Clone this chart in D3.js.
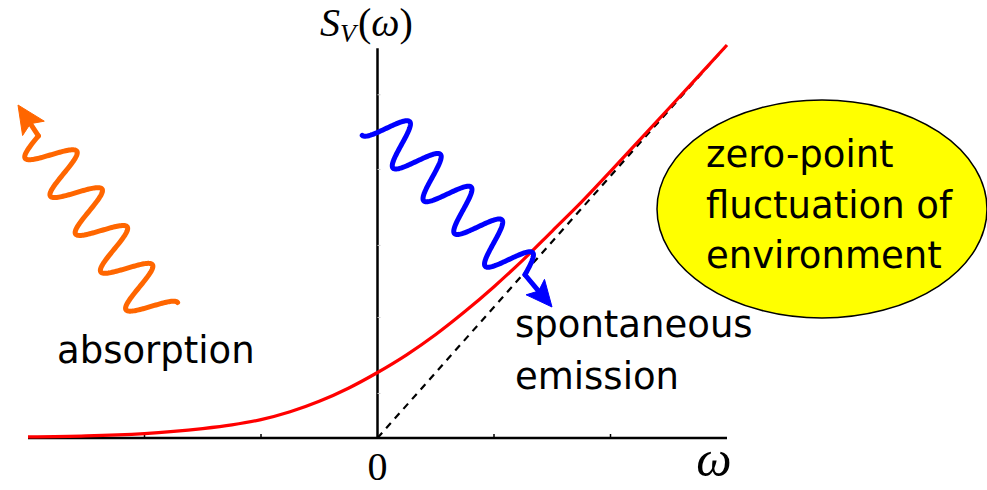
<!DOCTYPE html>
<html>
<head>
<meta charset="utf-8">
<script src="https://cdn.jsdelivr.net/npm/d3@7/dist/d3.min.js"></script>
<style>
  html, body { margin: 0; padding: 0; background: #fff; }
  svg { display: block; }
</style>
</head>
<body>
<svg id="chart" width="987" height="490"></svg>
<script>
// ---------- data ----------
const omega    = [-3, -2.5, -2, -1.75, -1.5, -1.25, -1, -0.75, -0.5, -0.25, 0, 0.25, 0.5, 0.75, 1, 1.25, 1.5, 1.75, 2, 2.5, 3];
const spectrum = [0.008, 0.016, 0.034, 0.05, 0.072, 0.1, 0.14, 0.2, 0.28, 0.38, 0.5, 0.635, 0.79, 0.965, 1.155, 1.36, 1.58, 1.8, 2.035, 2.515, 3.0];
const asymptoteX = [0, 2.98];
const asymptoteY = [0, 2.98];
const xTicks = [-2, -1, 1, 2];
const yTicks = [0.34, 0.92, 1.47, 2.05, 2.62];
const xTickLabels = ["0"];
const notes = {
  absorption: ["absorption"],
  emission: ["spontaneous", "emission"],
  zeroPoint: ["zero-point", "fluctuation of", "environment"]
};

// ---------- layout ----------
const svg = d3.select("#chart");
const x = d3.scaleLinear().domain([-3, 3]).range([28, 727]);
const y = d3.scaleLinear().domain([0, 3]).range([438, 45]);

// axes
svg.append("line")
  .attr("x1", x(-3)).attr("x2", x(3))
  .attr("y1", y(0)).attr("y2", y(0))
  .attr("stroke", "#000").attr("stroke-width", 2.5);
svg.append("line")
  .attr("x1", x(0)).attr("x2", x(0))
  .attr("y1", y(0) + 1).attr("y2", y(2.975))
  .attr("stroke", "#000").attr("stroke-width", 2.5);

svg.selectAll(".xt").data(xTicks).enter().append("line")
  .attr("x1", d => x(d)).attr("x2", d => x(d))
  .attr("y1", y(0)).attr("y2", y(0) - 4)
  .attr("stroke", "#000").attr("stroke-width", 1.5);
svg.selectAll(".yt").data(yTicks).enter().append("line")
  .attr("x1", x(0)).attr("x2", x(0) + 3)
  .attr("y1", d => y(d)).attr("y2", d => y(d))
  .attr("stroke", "#ccc").attr("stroke-width", 1);

// dashed asymptote
svg.append("path")
  .attr("d", d3.line()(asymptoteX.map((d, i) => [x(d), y(asymptoteY[i])])))
  .attr("fill", "none").attr("stroke", "#000")
  .attr("stroke-width", 2.2).attr("stroke-dasharray", "7,6");

// red spectrum
svg.append("path")
  .attr("d", d3.line().curve(d3.curveCatmullRom.alpha(0.5))(omega.map((d, i) => [x(d), y(spectrum[i])])))
  .attr("fill", "none").attr("stroke", "#ff0000").attr("stroke-width", 3.2);

// ---------- wavy photon arrows (annotations) ----------
function wave(O, u, n, lambda, amp, s0, s1) {
  const pts = [];
  for (let s = s0; s <= s1 + 1e-6; s += 0.5) {
    const c = -amp * Math.cos(2 * Math.PI * s / lambda);
    pts.push([O[0] + s * u[0] + c * n[0], O[1] + s * u[1] + c * n[1]]);
  }
  return pts;
}
function arrowHead(tail, tip, L, w) {
  const dx = tip[0] - tail[0], dy = tip[1] - tail[1];
  const len = Math.hypot(dx, dy);
  const d = [dx / len, dy / len], p = [-d[1], d[0]];
  const b = [tip[0] - L * d[0], tip[1] - L * d[1]];
  const notch = [tip[0] - 0.8 * L * d[0], tip[1] - 0.8 * L * d[1]];
  return [tip, [b[0] + w * p[0], b[1] + w * p[1]], notch, [b[0] - w * p[0], b[1] - w * p[1]]];
}
function drawPhoton(cfg) {
  const pts = wave(cfg.O, cfg.u, cfg.n, cfg.lambda, cfg.amp, cfg.s0, cfg.s1);
  const end = cfg.arrowFromStart ? pts[0] : pts[pts.length - 1];
  svg.append("path")
    .attr("d", d3.line()(pts))
    .attr("fill", "none").attr("stroke", cfg.color)
    .attr("stroke-width", 5).attr("stroke-linecap", "round").attr("stroke-linejoin", "round");
  const head = arrowHead(end, cfg.tip, cfg.L, cfg.w);
  svg.append("line")
    .attr("x1", end[0]).attr("y1", end[1])
    .attr("x2", head[2][0]).attr("y2", head[2][1])
    .attr("stroke", cfg.color).attr("stroke-width", 5).attr("stroke-linecap", "round");
  svg.append("path")
    .attr("d", d3.line()(head) + "Z")
    .attr("fill", cfg.color).attr("stroke", cfg.color).attr("stroke-width", 1);
}
const bu = Math.hypot(30.75, 32.75);
drawPhoton({
  color: "#0000ff", O: [378.3, 120.3], u: [30.75 / bu, 32.75 / bu], n: [32.75 / bu, -30.75 / bu],
  lambda: bu, amp: 22, s0: 0, s1: 4.75 * bu, tip: [552, 307], L: 26, w: 12, arrowFromStart: false
});
drawPhoton({
  color: "#ff6600", O: [44.7, 145.3], u: [0.554, 0.832], n: [0.832, -0.554],
  lambda: 45.5, amp: 23.5, s0: -45.5 / 4, s1: 4.5 * 45.5, tip: [18, 105], L: 28, w: 13, arrowFromStart: true
});

// ---------- ellipse ----------
svg.append("ellipse")
  .attr("cx", 822).attr("cy", 209).attr("rx", 165).attr("ry", 109)
  .attr("fill", "#ffff00").attr("stroke", "#000").attr("stroke-width", 1.5);

// ---------- texts ----------
const sans = "'DejaVu Sans', Verdana, sans-serif";
function block(lines, x0, y0, dy) {
  svg.append("g").selectAll("text").data(lines).enter().append("text")
    .attr("x", x0).attr("y", (d, i) => y0 + i * dy)
    .attr("font-family", sans).attr("font-size", 37).attr("fill", "#000")
    .text(d => d);
}
block(notes.absorption, 57, 363, 0);
block(notes.emission, 515, 337, 52);
block(notes.zeroPoint, 706, 167, 50.5);

const serif = "'Liberation Serif', 'DejaVu Serif', serif";
svg.append("text").attr("x", x(0)).attr("y", 480)
  .attr("text-anchor", "middle").attr("font-family", serif).attr("font-size", 40)
  .text(xTickLabels[0]);
svg.append("text").attr("x", 714).attr("y", 476)
  .attr("text-anchor", "middle").attr("font-family", serif).attr("font-style", "italic").attr("font-size", 50)
  .text("ω");

const lab = svg.append("text").attr("x", 320).attr("y", 36)
  .attr("font-family", serif).attr("font-size", 40);
lab.append("tspan").attr("font-style", "italic").text("S");
lab.append("tspan").attr("font-style", "italic").attr("font-size", 26).attr("dy", 6).text("V");
lab.append("tspan").attr("dy", -6).attr("dx", 2).text("(");
lab.append("tspan").attr("font-style", "italic").text("ω");
lab.append("tspan").text(")");
</script>
</body>
</html>
